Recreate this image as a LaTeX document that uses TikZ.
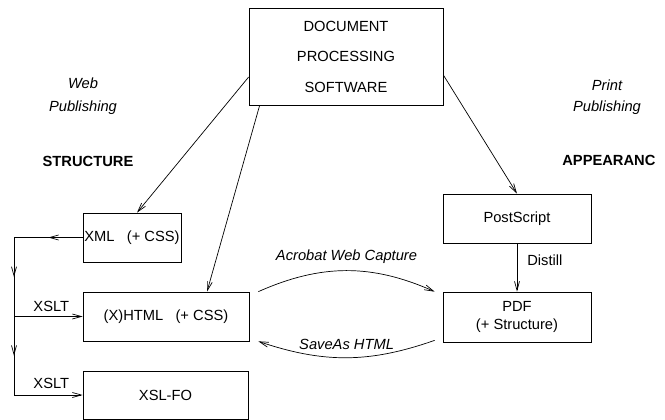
\documentclass[tikz,border=0pt]{standalone}
\usepackage{fontspec}
\setmainfont{Liberation Sans}
\usetikzlibrary{arrows.meta,decorations.markings}

\begin{document}
\begin{tikzpicture}[x=1pt, y=1pt, line width=0.7pt,
		font=\fontsize{14.7}{17.6}\selectfont,
		box/.style={draw, rectangle, inner sep=0pt},
		tip/.style={-{Straight Barb[length=9pt,width=5pt]}},
		midtip/.style={postaction={decorate}, decoration={markings, mark=at position 0.5 with {\arrow{Straight Barb[length=9pt,width=5pt]}}}},
		side/.style={font=\fontsize{14.7}{17.6}\selectfont\itshape},
		head/.style={font=\fontsize{14.7}{17.6}\selectfont\bfseries},
		note/.style={inner sep=0pt}]
		%%%%% START %%%%%
		
		\useasboundingbox (0, 0) rectangle (665, -420);
		
		\node[box, minimum width=194, minimum height=97, align=center, font=\fontsize{14.7}{30.5}\selectfont] (doc) at (346, -56.5) {DOCUMENT\\PROCESSING\\SOFTWARE};
		
		\node[side] (web) at (83, -83) {Web};
		\node[side] (webpub) at (83, -108) {Publishing};
		\node[head] (struct) at (88, -161) {STRUCTURE};
		\node[side] (print) at (607, -85) {Print};
		\node[side] (printpub) at (607, -108) {Publishing};
		\begin{scope}
			\clip (540, -140) rectangle (654, -180);
			\node[head, note, anchor=west] (appear) at (562, -160) {APPEARANCE};
		\end{scope}
		
		\node[box, minimum width=98, minimum height=49] (xml) at (132, -237.5) {XML\ \ \ (+ CSS)};
		\node[box, minimum width=166, minimum height=49] (html) at (166, -316.5) {(X)HTML\ \ \ (+ CSS)};
		\node[box, minimum width=165, minimum height=48] (xslfo) at (165.5, -395) {XSL-FO};
		
		\node[box, minimum width=148, minimum height=49] (ps) at (517, -218.5) {PostScript};
		\node[box, minimum width=148, minimum height=50, align=center, font=\fontsize{14.7}{18}\selectfont] (pdf) at (517, -317) {PDF\\(+ Structure)};
		
		\draw[tip] ([yshift=-20.5pt]doc.west) -- ([xshift=5pt]xml.north);
		\draw[tip] ([xshift=11pt]doc.south west) -- ([xshift=41pt]html.north);
		\draw[tip] ([yshift=-18.5pt]doc.east) -- (ps.north);
		\draw[tip] (ps.south) -- node[note, pos=0.35, right=10pt] {Distill} (pdf.north);
		
		\coordinate (split) at (14, -237.5);
		\coordinate (fork) at (split |- html.west);
		\coordinate (foot) at (split |- xslfo.west);
		\draw[midtip] (xml.west) -- (split);
		\draw[midtip] (split) -- (fork);
		\draw[midtip] (fork) -- (foot);
		\draw[tip] (fork) -- node[note, midway, above=4.5pt, xshift=3pt] {XSLT} (html.west);
		\draw[tip] (foot) -- node[note, midway, above=6.5pt, xshift=3pt] {XSLT} (xslfo.west);
		
		\draw[tip] ([xshift=9pt]html.north east) to[bend left=24] node[note, side, midway, above=6.5pt] {Acrobat Web Capture} ([xshift=-8pt]pdf.north west);
		\draw[tip] ([xshift=-8pt, yshift=2pt]pdf.south west) to[bend left=19] node[note, side, midway, above=7.5pt] {SaveAs HTML} ([xshift=9pt]html.south east);
		
		%%%%% END %%%%%
	\end{tikzpicture}
\end{document}
